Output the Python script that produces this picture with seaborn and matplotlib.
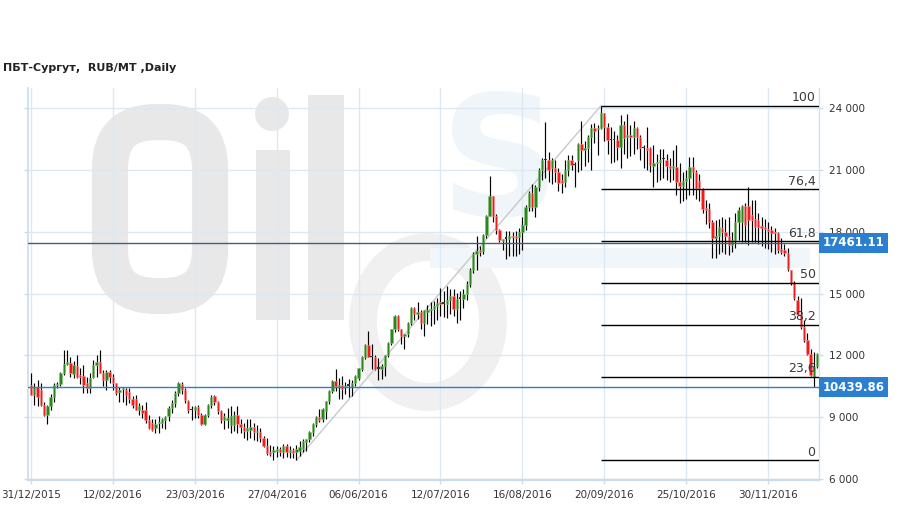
import matplotlib
matplotlib.use('Agg')
import matplotlib.pyplot as plt
import seaborn as sns
import numpy as np
import pandas as pd
from matplotlib.patches import Rectangle, FancyBboxPatch, Ellipse, Circle
from matplotlib.ticker import FuncFormatter

sns.set_theme(style='white')
plt.rcParams['font.family'] = ['DejaVu Sans']

title = 'ПБТ-Сургут,  RUB/MT ,Daily'
tick_labels = ['31/12/2015', '12/02/2016', '23/03/2016', '27/04/2016', '06/06/2016',
               '12/07/2016', '16/08/2016', '20/09/2016', '25/10/2016', '30/11/2016']
tick_bars = [0, 25, 50, 75, 100, 125, 150, 175, 200, 225]

opens = [
    10556, 10075, 10476, 10300, 9594, 9113, 9514, 9995, 10556, 10620,
    11118, 11600, 11631, 11070, 11471, 11038, 10990, 10637, 10396, 10957,
    11519, 11680, 11118, 10797, 11198, 10957, 10669, 10236, 10348, 10316,
    10236, 9867, 9867, 9353, 9353, 9321, 8872, 8712, 8471, 8712,
    8710, 8871, 9032, 9435, 9677, 10161, 10613, 10290, 9758, 9355,
    9355, 9468, 9113, 8677, 9113, 9597, 10000, 9726, 9274, 8871,
    8871, 8629, 8629, 9081, 8677, 8516, 8306, 8387, 8516, 8258,
    8290, 7984, 7613, 7290, 7290, 7371, 7468, 7290, 7613, 7290,
    7419, 7290, 7371, 7451, 7774, 7935, 8258, 8661, 9016, 8903,
    9306, 9790, 10274, 10758, 10435, 10548, 10435, 10516, 10435, 10677,
    10919, 11355, 11919, 12500, 11935, 11919, 11355, 11355, 11484, 12000,
    12613, 13258, 13903, 13258, 12935, 13016, 13580, 14306, 13984, 14097,
    13548, 14097, 14194, 14258, 14387, 14600, 14516, 14516, 14710, 14903,
    14258, 14742, 14742, 15000, 15484, 16161, 16919, 17129, 17048, 17855,
    18774, 19742, 18774, 18097, 17532, 17661, 17661, 17806, 17774, 17742,
    17968, 18339, 19226, 19871, 19226, 20194, 21000, 21484, 21484, 21081,
    21081, 20919, 20516, 20432, 21000, 21486, 21243, 21486, 22248, 21972,
    22086, 22621, 23058, 22977, 23026, 23755, 23107, 22459, 22459, 22459,
    22135, 23188, 22621, 22702, 22621, 23058, 22621, 22053, 22053, 22053,
    21211, 21324, 21405, 21535, 21486, 21194, 21113, 21162, 20400, 20238,
    20465, 20594, 21162, 20918, 20465, 20060, 19136, 19087, 18487, 17677,
    17790, 18163, 18001, 17790, 17353, 17596, 18487, 18487, 19249, 19249,
    18800, 18601, 18569, 18277, 18212, 18115, 18080, 18001, 17920, 17142,
    17110, 16980, 16137, 15488, 14678, 14030, 13381, 12733, 12085, 10950,
    11469]
highs = [
    11118, 10637, 10797, 10637, 9754, 9594, 10100, 10640, 10700, 11200,
    12241, 12241, 11920, 11700, 12000, 11400, 11519, 10957, 11118, 11759,
    12000, 12241, 11300, 11278, 11278, 11100, 10669, 10476, 10476, 10396,
    10400, 10000, 10075, 9700, 9600, 9754, 9100, 8900, 8900, 9065,
    8950, 9050, 9516, 9850, 10250, 10726, 10690, 10400, 9850, 9516,
    9516, 9600, 9200, 9150, 9650, 10050, 10050, 9800, 9350, 9194,
    9435, 9516, 9300, 9548, 8900, 8700, 8900, 8903, 8700, 8600,
    8450, 8100, 7984, 7661, 7581, 7600, 7550, 7700, 7700, 7581,
    7500, 7645, 7855, 7950, 7950, 8300, 8700, 9050, 9387, 9420,
    9790, 10300, 10790, 11322, 10919, 11000, 10700, 10871, 10800, 11050,
    11400, 11950, 12550, 13177, 12532, 12000, 11887, 11600, 12000, 12650,
    13300, 13950, 13950, 13258, 13050, 13600, 14350, 14350, 14581, 14200,
    14194, 14450, 14581, 14650, 14800, 15274, 15100, 15355, 15200, 15200,
    15032, 15100, 15200, 15600, 16250, 17000, 17774, 17300, 17900, 18800,
    20710, 19742, 18850, 18150, 17661, 18016, 18050, 18000, 18050, 18200,
    18700, 19300, 20000, 20300, 20250, 21100, 21600, 23350, 21900, 21600,
    21500, 21100, 20800, 21500, 21750, 21729, 21405, 22300, 23383, 22400,
    22700, 23220, 23300, 23188, 24128, 23755, 23300, 23107, 22900, 22700,
    23674, 23400, 23700, 23200, 23400, 23100, 22700, 22216, 23107, 22100,
    22216, 21800, 22000, 22000, 21800, 21600, 21972, 22216, 21324, 20900,
    21000, 21648, 21648, 21000, 20800, 20108, 19541, 19400, 18569, 18569,
    18600, 18700, 18600, 18731, 18000, 18893, 19200, 19300, 19400, 20190,
    19541, 19541, 18900, 18731, 18600, 18500, 18300, 18200, 18000, 17700,
    17400, 17200, 16137, 15600, 14900, 14800, 13700, 13100, 12300, 12166,
    12100]
lows = [
    10075, 9594, 9514, 9514, 9033, 8664, 9350, 9750, 10400, 10500,
    11038, 11550, 10950, 10900, 10877, 10600, 10155, 10155, 10155, 10877,
    10957, 11118, 10500, 10316, 10637, 10300, 10075, 9754, 9754, 9594,
    9700, 9450, 9353, 9100, 8950, 8712, 8400, 8300, 8231, 8231,
    8450, 8400, 8800, 9200, 9500, 10000, 10100, 9700, 9200, 8871,
    8952, 8950, 8600, 8600, 9000, 9450, 9600, 9150, 8700, 8419,
    8468, 8226, 8300, 8226, 8200, 8000, 7900, 7984, 7900, 7850,
    7800, 7550, 7177, 7129, 6935, 7050, 7100, 7000, 7050, 7016,
    7000, 6890, 7100, 7290, 7371, 7800, 8100, 8500, 8742, 8750,
    8903, 9650, 10150, 10274, 9871, 9871, 10100, 9952, 10000, 10500,
    10800, 11250, 11800, 11900, 11322, 11300, 10790, 10850, 11000, 11900,
    12500, 13150, 13200, 12532, 12290, 12900, 13450, 13700, 13742, 13300,
    12935, 13500, 13419, 13500, 13700, 13903, 13850, 13822, 14000, 13900,
    13580, 13700, 14300, 14700, 15300, 16000, 16161, 16800, 16900, 17700,
    18774, 18500, 17900, 17500, 17129, 16694, 16806, 16806, 16806, 16900,
    17100, 18100, 19000, 19000, 18700, 20000, 20500, 20600, 20400, 20300,
    20400, 20000, 19900, 20200, 20700, 21000, 20189, 20900, 21000, 21200,
    21400, 21000, 22300, 21729, 22977, 22400, 21800, 21324, 21400, 21500,
    21081, 21800, 21567, 21700, 21800, 22000, 21500, 21081, 21000, 20900,
    20189, 20400, 20500, 20600, 20500, 20400, 20514, 19784, 19378, 19500,
    19600, 19800, 19784, 19600, 19500, 18893, 18400, 18200, 16704, 16704,
    16900, 17000, 16900, 16867, 17000, 17190, 17600, 17500, 17500, 17353,
    17500, 17515, 17400, 17300, 17200, 17150, 17000, 16900, 16950, 16900,
    16800, 16100, 15400, 14700, 13950, 13300, 12650, 12000, 10982, 10440,
    11400]
closes = [
    10075, 10476, 9995, 9594, 9113, 9514, 9995, 10556, 10620, 11118,
    11600, 11680, 11118, 11519, 10957, 10957, 10556, 10396, 10877, 11519,
    11680, 11118, 10797, 11198, 10957, 10637, 10155, 10316, 10396, 10075,
    9867, 9594, 9353, 9546, 9193, 8872, 8471, 8391, 8664, 8744,
    8903, 8984, 9435, 9677, 10161, 10645, 10323, 9839, 9323, 9340,
    9468, 9113, 8677, 9113, 9597, 9968, 9726, 9274, 8871, 9032,
    8952, 9032, 9081, 8677, 8516, 8306, 8468, 8516, 8258, 8340,
    7984, 7613, 7258, 7210, 7419, 7468, 7290, 7613, 7290, 7419,
    7258, 7451, 7532, 7855, 7935, 8258, 8661, 9016, 8871, 9387,
    9790, 10274, 10758, 10484, 10548, 10355, 10516, 10516, 10677, 11000,
    11387, 11919, 12500, 11935, 11919, 11355, 11340, 11484, 12000, 12613,
    13258, 13903, 13258, 12935, 13016, 13580, 14306, 13984, 14097, 13548,
    14194, 14194, 14258, 14387, 14548, 14516, 14516, 14710, 14903, 14258,
    14742, 14742, 15000, 15484, 16161, 16919, 17048, 17000, 17855, 18774,
    19742, 18774, 18097, 17580, 17661, 17661, 17806, 17742, 17710, 17968,
    18339, 19226, 19871, 19226, 20194, 21000, 21484, 21500, 21000, 21484,
    20919, 20387, 20387, 21000, 21486, 21243, 21243, 22248, 21972, 22086,
    22621, 23058, 22896, 23058, 23755, 23107, 22459, 22459, 22459, 22135,
    23188, 22540, 22700, 22621, 23058, 22621, 22053, 22053, 21972, 21243,
    21324, 21405, 21486, 21535, 21194, 21113, 21211, 20400, 20238, 20465,
    20594, 21162, 20918, 20108, 20108, 19087, 19055, 18487, 17677, 17790,
    18212, 18001, 17790, 17353, 17596, 18487, 19055, 19249, 18325, 18569,
    18569, 18244, 18244, 18163, 18115, 18050, 17953, 17920, 17110, 17029,
    16948, 16169, 15488, 14759, 14030, 13381, 12733, 12085, 11031, 11437,
    12053]

price_lines = [17461.11, 10439.86]
price_line_colors = ['#3d5f86', '#2a7fd0']
fib_pcts = [0, 23.6, 38.2, 50, 61.8, 76.4, 100]
fib_texts = ['0', '23,6', '38,2', '50', '61,8', '76,4', '100']
fib_low_bar = 81
fib_high_bar = 174

df = pd.DataFrame({'bar': np.arange(len(closes)), 'open': opens, 'high': highs,
                   'low': lows, 'close': closes})

W, H = 909, 509
fig = plt.figure(figsize=(W / 100, H / 100), dpi=100)
fig.patch.set_facecolor('white')

# background watermark layer (pixel coordinates)
bg = fig.add_axes([0, 0, 1, 1], zorder=0)
bg.set_xlim(0, W)
bg.set_ylim(H, 0)
bg.axis('off')
wm = '#e8e8e8'
bg.add_patch(FancyBboxPatch((110, 122), 100, 174, boxstyle='round,pad=0,rounding_size=46',
                            fill=False, edgecolor=wm, lw=26))
bg.add_patch(Circle((272, 114), 17, color=wm, lw=0))
bg.add_patch(Rectangle((256, 150), 34, 170, color=wm, lw=0))
bg.add_patch(Rectangle((308, 95), 36, 225, color=wm, lw=0))
bg.add_patch(Ellipse((428, 322), 130, 150, fill=False, edgecolor='#f0f0f0', lw=20))
bg.add_patch(Rectangle((430, 248), 380, 20, color='#f1f6fb', lw=0))
bg.text(500, 170, 'S', fontsize=120, fontweight='bold', color='#f0f5fa',
        ha='center', va='center')

ax = fig.add_axes([28 / W, 1 - 480 / H, (819 - 28) / W, (480 - 88) / H], zorder=1)
ax.set_facecolor('none')
x_left, x_right = -0.92, 240.55
ax.set_xlim(x_left, x_right)
ax.set_ylim(5940, 24987)

grid_c = '#dce8f4'
ax.set_axisbelow(True)
ax.grid(True, color=grid_c, lw=1)
ax.set_xticks(tick_bars)
ax.set_xticklabels(tick_labels)
ax.set_yticks(range(6000, 24001, 3000))
ax.yaxis.set_major_formatter(FuncFormatter(lambda v, p: f'{int(v):,}'.replace(',', ' ')))
ax.yaxis.tick_right()
ax.tick_params(axis='y', which='both', left=True, right=True, labelleft=False,
               labelright=True, length=3, width=1, color='#c8dcee', labelsize=7.5,
               labelcolor='#333333', pad=4)
ax.tick_params(axis='x', bottom=True, length=3, width=1, color='#c8dcee', labelsize=7.5,
               labelcolor='#333333', pad=4)
ax.spines['top'].set_visible(False)
ax.spines['left'].set_color('#c8dcee')
ax.spines['left'].set_linewidth(1.2)
ax.spines['right'].set_color('#d4e3f1')
ax.spines['right'].set_linewidth(1)
ax.spines['bottom'].set_color('#c8dcee')
ax.spines['bottom'].set_linewidth(1.6)

# trend line from swing low to swing high
sns.lineplot(x=[df.bar[fib_low_bar], df.bar[fib_high_bar]],
             y=[df.low[fib_low_bar], df.high[fib_high_bar]],
             color='#c9c9c9', lw=1, ax=ax, zorder=1.5)

# candles
ax.vlines(df.bar, df.low, df.high, color='black', lw=0.85, zorder=2)
diff = df.close - df.open
bottom = df[['open', 'close']].min(axis=1)
height = diff.abs().clip(lower=70)
up = diff > 30
down = diff < -30
doji = ~(up | down)
ax.bar(df.bar[up], height[up], bottom=bottom[up], width=0.72, color='#2b861c',
       edgecolor='#88c478', lw=0.4, zorder=3)
ax.bar(df.bar[down], height[down], bottom=bottom[down], width=0.72, color='#f41a1a',
       edgecolor='#ff9a9a', lw=0.4, zorder=3)
ax.bar(df.bar[doji], height[doji], bottom=bottom[doji], width=0.8, color='#333333',
       lw=0, zorder=3)

# fibonacci levels
fib_low = df.low[fib_low_bar]
fib_high = df.high[fib_high_bar]
for pct, txt in zip(fib_pcts, fib_texts):
    lvl = fib_low + pct / 100 * (fib_high - fib_low)
    ax.hlines(lvl, df.bar[fib_high_bar], x_right, color='black', lw=1, zorder=4)
    ax.annotate(txt, xy=(1, lvl), xycoords=('axes fraction', 'data'),
                xytext=(-2.5, 1.2), textcoords='offset points', ha='right', va='bottom',
                fontsize=9, color='#3a3a3a', zorder=5)

# horizontal price lines with labels
for pl, pc in zip(price_lines, price_line_colors):
    ax.axhline(pl, color=pc, lw=1, zorder=4)
    ax.annotate(f'{pl:.2f}', xy=(1, pl), xycoords=('axes fraction', 'data'),
                xytext=(25, 0), textcoords='offset points', ha='center', va='center',
                fontsize=8.5, fontweight='bold', color='white', annotation_clip=False,
                bbox=dict(boxstyle='square,pad=0.3', fc='#2a7fd0', ec='none'), zorder=6)

ax.set_xlabel('')
ax.set_ylabel('')
if ax.get_legend():
    ax.get_legend().remove()

fig.text(3 / W, 1 - 68 / H, title, fontsize=8, fontweight='bold', color='#222222',
         ha='left', va='center')

fig.savefig('out.png', dpi=100)
